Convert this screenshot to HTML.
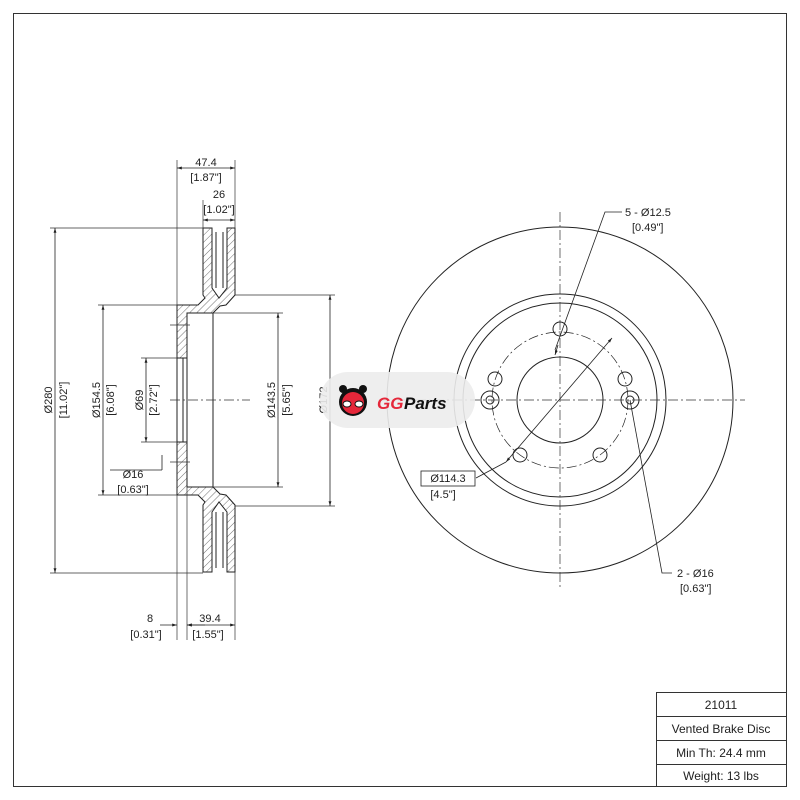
<!DOCTYPE html>
<html><head><meta charset="utf-8"><style>
html,body{margin:0;padding:0;background:#fff}
svg{display:block}
text{font-family:"Liberation Sans",sans-serif;font-size:11px;fill:#222}
</style></head><body>
<svg width="800" height="800" viewBox="0 0 800 800" xmlns="http://www.w3.org/2000/svg">
<defs>
<pattern id="h" width="5" height="5" patternUnits="userSpaceOnUse" patternTransform="rotate(45)">
<line x1="0" y1="0" x2="0" y2="5" stroke="#333" stroke-width="0.7"/>
</pattern>
<marker id="a" viewBox="0 0 10 10" refX="10" refY="5" markerWidth="6" markerHeight="6" orient="auto-start-reverse"><path d="M0,2 L10,5 L0,8 z" fill="#222"/></marker>
</defs>
<rect x="13.5" y="13.5" width="773" height="773" fill="none" stroke="#333" stroke-width="1"/>

<g stroke="#222" stroke-width="1" fill="url(#h)">
<!-- top -->
<path d="M177,305 L198,305 L205,298 L203,295 L203,228 L212,228 L212,288 L219,298 L227,288 L227,228 L235,228 L235,295 L226,305 L220,306 L213,313 L187,313 L187,358 L177,358 Z"/>
<!-- bottom mirror -->
<path d="M177,495 L198,495 L205,502 L203,505 L203,572 L212,572 L212,512 L219,502 L227,512 L227,572 L235,572 L235,505 L226,495 L220,494 L213,487 L187,487 L187,442 L177,442 Z"/>
</g>
<g stroke="#222" stroke-width="1" fill="none">
<line x1="177" y1="358" x2="177" y2="442"/>
<line x1="183" y1="358" x2="183" y2="442"/>
<line x1="187" y1="358" x2="187" y2="442"/>
<line x1="216" y1="232" x2="216" y2="288"/><line x1="223" y1="232" x2="223" y2="288"/>
<line x1="216" y1="512" x2="216" y2="568"/><line x1="223" y1="512" x2="223" y2="568"/>
<line x1="213" y1="313" x2="213" y2="487"/>
</g>

<!-- extension lines -->
<g stroke="#333" stroke-width="0.7" fill="none">
<line x1="50" y1="228" x2="203" y2="228"/><line x1="50" y1="573" x2="203" y2="573"/>
<line x1="98" y1="305" x2="177" y2="305"/><line x1="98" y1="495" x2="177" y2="495"/>
<line x1="141" y1="358" x2="177" y2="358"/><line x1="141" y1="442" x2="177" y2="442"/>
<line x1="235" y1="295" x2="335" y2="295"/><line x1="235" y1="506" x2="335" y2="506"/>
<line x1="213" y1="313" x2="283" y2="313"/><line x1="213" y1="487" x2="283" y2="487"/>
<line x1="177" y1="160" x2="177" y2="305"/><line x1="235" y1="160" x2="235" y2="228"/>
<line x1="203" y1="200" x2="203" y2="228"/>
<line x1="177" y1="495" x2="177" y2="640"/><line x1="187" y1="487" x2="187" y2="640"/><line x1="235" y1="572" x2="235" y2="640"/>
<line x1="170" y1="400" x2="250" y2="400" stroke-dasharray="10,3,2,3"/>
<line x1="170" y1="325" x2="190" y2="325"/><line x1="170" y1="462" x2="190" y2="462"/>
</g>
<g stroke="#222" stroke-width="0.8" fill="none" marker-start="url(#a)" marker-end="url(#a)">
<line x1="177" y1="168" x2="235" y2="168"/>
<line x1="203" y1="220" x2="235" y2="220"/>
<line x1="55" y1="228" x2="55" y2="573"/>
<line x1="103" y1="305" x2="103" y2="495"/>
<line x1="146" y1="358" x2="146" y2="442"/>
<line x1="278" y1="313" x2="278" y2="487"/>
<line x1="330" y1="295" x2="330" y2="506"/>
<line x1="187" y1="625" x2="235" y2="625"/>
</g>
<g stroke="#222" stroke-width="0.8" fill="none">
<line x1="160" y1="625" x2="177" y2="625" marker-end="url(#a)"/>
<line x1="205" y1="625" x2="187" y2="625" marker-end="url(#a)"/>
<line x1="162" y1="455" x2="162" y2="470"/>
<line x1="110" y1="470" x2="162" y2="470"/>
</g>
<text x="206" y="166" text-anchor="middle">47.4</text>
<text x="206" y="181" text-anchor="middle">[1.87"]</text>
<text x="219" y="198" text-anchor="middle">26</text>
<text x="219" y="213" text-anchor="middle">[1.02"]</text>
<text x="150" y="622" text-anchor="middle">8</text>
<text x="146" y="638" text-anchor="middle">[0.31"]</text>
<text x="210" y="622" text-anchor="middle">39.4</text>
<text x="208" y="638" text-anchor="middle">[1.55"]</text>
<text x="133" y="478" text-anchor="middle">Ø16</text>
<text x="133" y="493" text-anchor="middle">[0.63"]</text>
<text transform="translate(52,400) rotate(-90)" text-anchor="middle">Ø280</text>
<text transform="translate(67,400) rotate(-90)" text-anchor="middle">[11.02"]</text>
<text transform="translate(100,400) rotate(-90)" text-anchor="middle">Ø154.5</text>
<text transform="translate(114,400) rotate(-90)" text-anchor="middle">[6.08"]</text>
<text transform="translate(143,400) rotate(-90)" text-anchor="middle">Ø69</text>
<text transform="translate(157,400) rotate(-90)" text-anchor="middle">[2.72"]</text>
<text transform="translate(275,400) rotate(-90)" text-anchor="middle">Ø143.5</text>
<text transform="translate(290,400) rotate(-90)" text-anchor="middle">[5.65"]</text>
<text transform="translate(327,400) rotate(-90)" text-anchor="middle">Ø172</text>

<!-- front view -->
<g stroke="#222" stroke-width="1" fill="none">
<circle cx="560" cy="400" r="173"/>
<circle cx="560" cy="400" r="106"/>
<circle cx="560" cy="400" r="97"/>
<circle cx="560" cy="400" r="43"/>
<circle cx="560" cy="400" r="68" stroke-width="0.7" stroke-dasharray="10,3,2,3"/>
<circle cx="560" cy="329" r="7"/>
<circle cx="625" cy="379" r="7"/>
<circle cx="495" cy="379" r="7"/>
<circle cx="600" cy="455" r="7"/>
<circle cx="520" cy="455" r="7"/>
<circle cx="490" cy="400" r="9"/><circle cx="490" cy="400" r="4"/>
<circle cx="630" cy="400" r="9"/><circle cx="630" cy="400" r="4"/>
</g>
<g stroke="#333" stroke-width="0.7" fill="none" stroke-dasharray="10,3,2,3">
<line x1="380" y1="400" x2="745" y2="400"/>
<line x1="560" y1="212" x2="560" y2="590"/>
</g>
<g stroke="#222" stroke-width="0.8" fill="none">
<polyline points="622,212 605,212 555,350" />
<line x1="558" y1="345" x2="555" y2="355" marker-end="url(#a)"/>
<line x1="612" y1="338" x2="506" y2="462" marker-start="url(#a)" marker-end="url(#a)"/>
<polyline points="506,462 476,478 476,478"/>
<polyline points="630,400 662,573 672,573" />
<rect x="421" y="471" width="54" height="15"/>
</g>
<text x="625" y="216">5 - Ø12.5</text>
<text x="632" y="231">[0.49"]</text>
<text x="448" y="482" text-anchor="middle">Ø114.3</text>
<text x="443" y="498" text-anchor="middle">[4.5"]</text>
<text x="677" y="577">2 - Ø16</text>
<text x="680" y="592">[0.63"]</text>

<!-- logo -->
<rect x="320" y="372" width="155" height="56" rx="28" fill="#ececec" opacity="0.9"/>
<g>
<circle cx="353" cy="402" r="14" fill="#111"/>
<circle cx="353" cy="403" r="11" fill="#e5273a"/>
<circle cx="343" cy="389" r="4" fill="#111"/><circle cx="363" cy="389" r="4" fill="#111"/>
<ellipse cx="347" cy="404" rx="4" ry="3" fill="#fff" stroke="#111"/>
<ellipse cx="359" cy="404" rx="4" ry="3" fill="#fff" stroke="#111"/>
</g>
<text x="377" y="409" style="font-size:17px;font-weight:bold;font-style:italic;fill:#e5273a">GG</text>
<text x="404" y="409" style="font-size:17px;font-weight:bold;font-style:italic;fill:#111">Parts</text>

<!-- table -->
<g stroke="#333" stroke-width="1" fill="none">
<rect x="656.5" y="692.5" width="130" height="94"/>
<line x1="656" y1="716.5" x2="787" y2="716.5"/>
<line x1="656" y1="740.5" x2="787" y2="740.5"/>
<line x1="656" y1="764.5" x2="787" y2="764.5"/>
</g>
<text x="721" y="709" text-anchor="middle" style="font-size:12px">21011</text>
<text x="721" y="733" text-anchor="middle" style="font-size:12px">Vented Brake Disc</text>
<text x="721" y="757" text-anchor="middle" style="font-size:12px">Min Th: 24.4 mm</text>
<text x="721" y="780" text-anchor="middle" style="font-size:12px">Weight: 13 lbs</text>
</svg>
</body></html>
